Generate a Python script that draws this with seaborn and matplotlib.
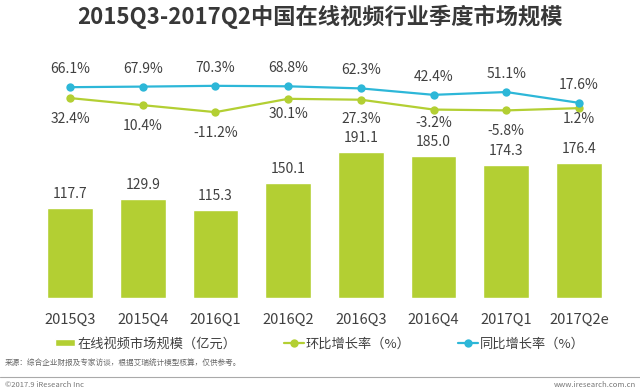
import numpy as np
import pandas as pd
import matplotlib.pyplot as plt
from matplotlib.lines import Line2D
import seaborn as sns

quarters = ["2015Q3", "2015Q4", "2016Q1", "2016Q2", "2016Q3", "2016Q4", "2017Q1", "2017Q2e"]
market_size = [117.7, 129.9, 115.3, 150.1, 191.1, 185.0, 174.3, 176.4]
qoq_growth = [32.4, 10.4, -11.2, 30.1, 27.3, -3.2, -5.8, 1.2]
yoy_growth = [66.1, 67.9, 70.3, 68.8, 62.3, 42.4, 51.1, 17.6]

title = "2015Q3-2017Q2中国在线视频行业季度市场规模"
bar_label = "在线视频市场规模（亿元）"
qoq_label = "环比增长率（%）"
yoy_label = "同比增长率（%）"
source = "来源：综合企业财报及专家访谈，根据艾瑞统计模型核算，仅供参考。"

green = "#b3cf33"
blue = "#2db7d8"
text_col = "#404040"

sns.set_theme(style="white")
plt.rcParams['font.family'] = ['Noto Sans CJK SC', 'DejaVu Sans']

df = pd.DataFrame({"quarter": quarters, "size": market_size,
                   "qoq": qoq_growth, "yoy": yoy_growth})
df["pos"] = np.arange(len(df))

fig = plt.figure(figsize=(6.4, 3.89), dpi=100)
ax = fig.add_axes([0, 0.2339, 1, 0.6118])

sns.barplot(data=df, x="quarter", y="size", color=green, width=0.63,
            saturation=1, label=bar_label, ax=ax)
for c in ax.containers:
    ax.bar_label(c, labels=[f"{v:.1f}" for v in df["size"]], padding=5,
                 fontsize=10, color=text_col)
ax.set_ylim(0, 311)
ax.set_xlim(-0.963, 7.839)
ax.set_xlabel("")
ax.set_ylabel("")
ax.set_yticks([])
ax.tick_params(axis="x", length=0, pad=11, labelsize=10.5, labelcolor=text_col)
sns.despine(ax=ax, left=True, bottom=True)

ax2 = ax.twinx()
sns.lineplot(data=df, x="pos", y="qoq", color=green, marker="o", markersize=6,
             markeredgewidth=0, linewidth=1.6, label=qoq_label, ax=ax2)
sns.lineplot(data=df, x="pos", y="yoy", color=blue, marker="o", markersize=6,
             markeredgewidth=0, linewidth=1.6, label=yoy_label, ax=ax2)
ax2.set_ylim(-586.7, 150.2)
ax2.set_yticks([])
ax2.set_ylabel("")
ax2.set_xlim(-0.963, 7.839)
sns.despine(ax=ax2, left=True, bottom=True, right=True)

# green labels sit below their points, blue labels above
green_dy = [-15, -15, -15, -11, -14, -10, -15, -8]
for i, (g, b) in enumerate(zip(qoq_growth, yoy_growth)):
    ax2.annotate(f"{g:.1f}%", (i, g), xytext=(0, green_dy[i]), textcoords="offset points",
                 ha="center", va="center", fontsize=10, color=text_col)
    ax2.annotate(f"{b:.1f}%", (i, b), xytext=(0, 13), textcoords="offset points",
                 ha="center", va="center", fontsize=10, color=text_col)

h1, l1 = ax.get_legend_handles_labels()
h2, l2 = ax2.get_legend_handles_labels()
if ax.get_legend():
    ax.get_legend().remove()
if ax2.get_legend():
    ax2.get_legend().remove()
fig.legend(h1 + h2, l1 + l2, loc="center", bbox_to_anchor=(0.5, 1 - 344 / 389), ncol=3,
           frameon=False, fontsize=9.5, handlelength=1.5, handleheight=0.45,
           handletextpad=0.15, columnspacing=3.6, labelcolor=text_col)

fig.text(0.5, 1 - 17 / 389, title, ha="center", va="center", fontsize=16,
         fontweight="bold", color="#383838")
fig.text(5 / 640, 1 - 364 / 389, source, ha="left", va="center", fontsize=5.5, color="#666666")
fig.add_artist(Line2D([0, 1], [1 - 377 / 389] * 2, color="#aaaaaa", linewidth=0.8))
fig.text(5 / 640, 1 - 385 / 389, "©2017.9 iResearch Inc", ha="left", va="center",
         fontsize=5.5, color="#777777")
fig.text(636 / 640, 1 - 385 / 389, "www.iresearch.com.cn", ha="right", va="center",
         fontsize=5.5, color="#777777")

fig.savefig("out.png", dpi=100)
